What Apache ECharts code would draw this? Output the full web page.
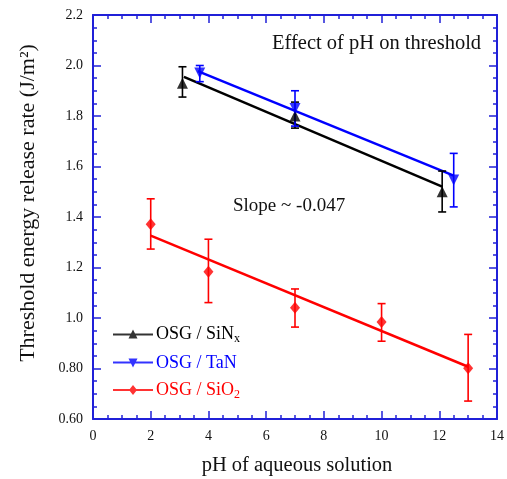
<!DOCTYPE html>
<html><head><meta charset="utf-8">
<script src="https://cdn.jsdelivr.net/npm/echarts@6/dist/echarts.min.js"></script>
<style>html,body{margin:0;padding:0;background:#fff}#c{width:507px;height:479px}</style>
</head><body><div id="c"></div>
<script>
// ---- data ----
var xTicks = [0, 2, 4, 6, 8, 10, 12, 14];
var yTickLabels = {'0.6':'0.60','0.8':'0.80','1':'1.0','1.2':'1.2','1.4':'1.4','1.6':'1.6','1.8':'1.8','2':'2.0','2.2':'2.2'};

var sinxPH   = [3.1, 7.0, 12.1];
var sinxG    = [1.93, 1.80, 1.50];
var sinxLow  = [1.875, 1.752, 1.42];
var sinxHigh = [1.995, 1.855, 1.582];
var sinxFitX = [3.15, 12.1];
var sinxFitY = [1.955, 1.52];

var tanPH    = [3.7, 7.0, 12.5];
var tanG     = [1.97, 1.83, 1.547];
var tanLow   = [1.936, 1.76, 1.44];
var tanHigh  = [2.0, 1.90, 1.652];
var tanFitX  = [3.63, 12.5];
var tanFitY  = [1.978, 1.564];

var sio2PH   = [2.0, 4.0, 7.0, 10.0, 13.0];
var sio2G    = [1.371, 1.183, 1.041, 0.984, 0.801];
var sio2Low  = [1.273, 1.061, 0.964, 0.908, 0.671];
var sio2High = [1.472, 1.312, 1.115, 1.057, 0.935];
var sio2FitX = [2.0, 13.0];
var sio2FitY = [1.326, 0.807];

var seriesNames = ['OSG / SiNx', 'OSG / TaN', 'OSG / SiO2'];
var annotationTitle = 'Effect of pH on threshold';
var annotationSlope = 'Slope ~ -0.047';
// ----------------------------------------

var BLACK = '#000000', BLUE = '#0000ff', RED = '#ff0000', AXIS = '#2020d8';
var FONT = 'Liberation Serif';

function zip(a, b) { return a.map(function (v, i) { return [v, b[i]]; }); }
function errData(x, lo, hi) { return x.map(function (v, i) { return [v, lo[i], hi[i]]; }); }

function errSeries(x, lo, hi, color) {
  return {
    type: 'custom', silent: true, z: 3,
    data: errData(x, lo, hi),
    encode: { x: 0, y: [1, 2] },
    renderItem: function (params, api) {
      var xv = api.value(0);
      var p1 = api.coord([xv, api.value(1)]);
      var p2 = api.coord([xv, api.value(2)]);
      var w = 4;
      var st = { stroke: color, lineWidth: 1.6, fill: null };
      return { type: 'group', children: [
        { type: 'line', shape: { x1: p1[0], y1: p1[1], x2: p2[0], y2: p2[1] }, style: st },
        { type: 'line', shape: { x1: p1[0] - w, y1: p1[1], x2: p1[0] + w, y2: p1[1] }, style: st },
        { type: 'line', shape: { x1: p2[0] - w, y1: p2[1], x2: p2[0] + w, y2: p2[1] }, style: st }
      ]};
    }
  };
}
function fitSeries(x, y, color) {
  return { type: 'line', data: zip(x, y), showSymbol: false, silent: true, z: 2,
    lineStyle: { color: color, width: 2.5 } };
}
function ptSeries(name, x, y, color, symbol, rot, size) {
  return { name: name, type: 'scatter', data: zip(x, y), symbol: symbol, symbolRotate: rot,
    symbolSize: size, itemStyle: { color: color }, z: 4 };
}

var iconUp = 'path://M0,9L40,9L40,11L0,11Z M15.5,14L20,5L24.5,14Z';
var iconDown = 'path://M0,9L40,9L40,11L0,11Z M15.5,6L24.5,6L20,15Z';
var iconDia = 'path://M0,9L40,9L40,11L0,11Z M20,5L24,10L20,15L16,10Z';

var axisTick = { show: true, inside: true, length: 8, lineStyle: { color: AXIS, width: 1.5 } };
var axisLine = { show: true, onZero: false, lineStyle: { color: AXIS, width: 2 } };
function mk(minorSplit) {
  return { show: true, splitNumber: minorSplit, length: 4, lineStyle: { color: AXIS, width: 1.5 } };
}

var chart = echarts.init(document.getElementById('c'));
chart.setOption({
  backgroundColor: '#fff',
  animation: false,
  grid: { left: 93, right: 8, top: 15, bottom: 60 },
  xAxis: [
    { type: 'value', min: 0, max: 14, interval: 2, position: 'bottom',
      axisLine: axisLine, axisTick: axisTick, minorTick: mk(4),
      splitLine: { show: false },
      axisLabel: { color: '#111', fontFamily: FONT, fontSize: 14, margin: 10,
        formatter: function (v) { return xTicks.indexOf(v) >= 0 ? String(v) : ''; } } },
    { type: 'value', min: 0, max: 14, interval: 2, position: 'top',
      axisLine: axisLine, axisTick: axisTick, minorTick: mk(4),
      splitLine: { show: false }, axisLabel: { show: false } }
  ],
  yAxis: [
    { type: 'value', min: 0.6, max: 2.2, interval: 0.2, position: 'left',
      axisLine: axisLine, axisTick: axisTick, minorTick: mk(4),
      splitLine: { show: false },
      axisLabel: { color: '#111', fontFamily: FONT, fontSize: 14, margin: 10,
        formatter: function (v) { var k = String(Math.round(v * 10) / 10); return yTickLabels[k] || ''; } } },
    { type: 'value', min: 0.6, max: 2.2, interval: 0.2, position: 'right',
      axisLine: axisLine, axisTick: axisTick, minorTick: mk(4),
      splitLine: { show: false }, axisLabel: { show: false } }
  ],
  legend: {
    orient: 'vertical', left: 113, top: 325, padding: 0, itemGap: 9, itemWidth: 40, itemHeight: 12,
    selectedMode: false,
    data: [
      { name: seriesNames[0], icon: iconUp },
      { name: seriesNames[1], icon: iconDown },
      { name: seriesNames[2], icon: iconDia }
    ],
    formatter: function (n) {
      if (n === seriesNames[0]) return '{k|OSG / SiN}{ks|x}';
      if (n === seriesNames[1]) return '{b|OSG / TaN}';
      return '{r|OSG / SiO}{rs|2}';
    },
    textStyle: { fontFamily: FONT, fontSize: 18, padding: [0, 0, 0, -2],
      rich: {
        k: { color: BLACK, fontFamily: FONT, fontSize: 18 },
        ks: { color: BLACK, fontFamily: FONT, fontSize: 12, padding: [10, 0, 0, 0] },
        b: { color: BLUE, fontFamily: FONT, fontSize: 18 },
        r: { color: RED, fontFamily: FONT, fontSize: 18 },
        rs: { color: RED, fontFamily: FONT, fontSize: 12, padding: [10, 0, 0, 0] }
      } }
  },
  graphic: [
    { type: 'text', left: 272, top: 33, style: { text: annotationTitle, font: '20.5px "Liberation Serif"', fill: '#111' } },
    { type: 'text', left: 233, top: 197, style: { text: annotationSlope, font: '19px "Liberation Serif"', fill: '#111' } },
    { type: 'text', x: 28, y: 203, rotation: Math.PI / 2,
      style: { text: 'Threshold energy release rate (J/m²)', font: '22px "Liberation Serif"', fill: '#111',
        textAlign: 'center', textVerticalAlign: 'middle' } },
    { type: 'text', x: 297, y: 466,
      style: { text: 'pH of aqueous solution', font: '20.5px "Liberation Serif"', fill: '#111',
        textAlign: 'center', textVerticalAlign: 'middle' } }
  ],
  series: [
    fitSeries(sinxFitX, sinxFitY, BLACK),
    fitSeries(tanFitX, tanFitY, BLUE),
    fitSeries(sio2FitX, sio2FitY, RED),
    errSeries(sinxPH, sinxLow, sinxHigh, BLACK),
    errSeries(tanPH, tanLow, tanHigh, BLUE),
    errSeries(sio2PH, sio2Low, sio2High, RED),
    ptSeries(seriesNames[0], sinxPH, sinxG, BLACK, 'triangle', 0, 11),
    ptSeries(seriesNames[1], tanPH, tanG, BLUE, 'triangle', 180, 11),
    ptSeries(seriesNames[2], sio2PH, sio2G, RED, 'diamond', 0, [10, 12])
  ]
});
</script></body></html>
